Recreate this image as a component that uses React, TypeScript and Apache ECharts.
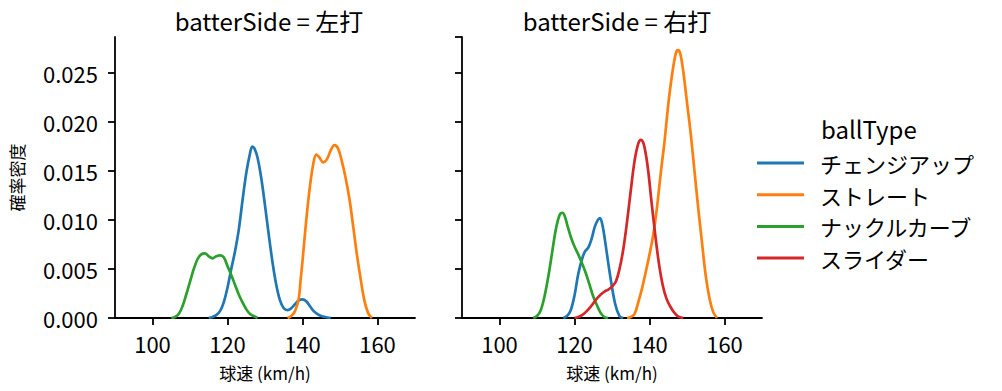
import React, { useEffect, useRef } from "react";
import * as echarts from "echarts";

const seriesNames = ["チェンジアップ", "ストレート", "ナックルカーブ", "スライダー"];
const colors = ["#1f77b4", "#ff7f0e", "#2ca02c", "#d62728"];
const panelTitles = ["batterSide = 左打", "batterSide = 右打"];
const xTicks = [100, 120, 140, 160];

// 左打
const leftChange: number[][] = [
  [115, 0], [116, 0.0001], [117, 0.0003], [118, 0.0007], [119, 0.0016], [120, 0.0031],
  [121, 0.005], [122, 0.0068], [123, 0.009], [124, 0.012], [125, 0.0148], [126, 0.0168],
  [126.6, 0.0175], [127.2, 0.0173], [128, 0.0164], [129, 0.0143], [130, 0.0115], [131, 0.0085],
  [132, 0.0057], [133, 0.0034], [134, 0.0018], [135, 0.001], [136, 0.0008], [137, 0.001],
  [138, 0.0014], [139, 0.0018], [140, 0.0019], [141, 0.0017], [142, 0.0012], [143, 0.0007],
  [144, 0.0004], [145, 0.0002], [146, 0.0001], [147.5, 0],
];
const leftStraight: number[][] = [
  [136, 0], [137, 0.0002], [138, 0.0007], [139, 0.002], [139.5, 0.0039], [140, 0.0058],
  [141, 0.01], [142, 0.0135], [143, 0.016], [143.7, 0.0167], [144.5, 0.0164], [145.5, 0.0159],
  [146.5, 0.0162], [147.5, 0.0171], [148.5, 0.01765], [149.5, 0.0173], [150.5, 0.016],
  [151.5, 0.0143], [152.5, 0.0122], [153.5, 0.0094], [154.5, 0.0065], [155.5, 0.004],
  [156.5, 0.0018], [157.5, 0.0005], [158.5, 0],
];
const leftKnuckle: number[][] = [
  [105, 0], [106, 0.0001], [107, 0.0004], [108, 0.0012], [109, 0.0024], [110, 0.0037],
  [111, 0.005], [112, 0.006], [113, 0.0065], [114, 0.0066], [115, 0.0063], [116, 0.0061],
  [117, 0.0063], [118, 0.0064], [119, 0.0062], [120, 0.0053], [121, 0.0044], [122, 0.0034],
  [123, 0.0024], [124, 0.0016], [125, 0.0009], [126, 0.0004], [127, 0.0002], [128, 0],
];

// 右打
const rightChange: number[][] = [
  [117, 0], [118, 0.0002], [119, 0.0008], [120, 0.0023], [121, 0.0045], [122, 0.006],
  [122.8, 0.0068], [123.7, 0.0072], [124.5, 0.008], [125.4, 0.0093], [126.2, 0.01],
  [126.8, 0.0102], [127.5, 0.0094], [128.1, 0.008], [129.4, 0.0046], [130.8, 0.0015],
  [132, 0.0002], [133, 0],
];
const rightStraight: number[][] = [
  [134, 0], [135, 0.0001], [136, 0.0004], [137, 0.0016], [138, 0.003], [139, 0.0047],
  [140, 0.0065], [141, 0.0085], [142, 0.0113], [143, 0.0148], [144, 0.018], [145, 0.0218],
  [146, 0.0248], [147, 0.027], [147.6, 0.02735], [148.2, 0.027], [149, 0.0252], [150, 0.022],
  [151, 0.0188], [152, 0.015], [153, 0.0112], [154, 0.0077], [155, 0.0043], [156, 0.002],
  [157, 0.0006], [158, 0],
];
const rightKnuckle: number[][] = [
  [109, 0], [110, 0.0002], [111, 0.0008], [112, 0.0022], [113, 0.0042], [114, 0.0066],
  [115, 0.009], [116, 0.0105], [116.8, 0.01075], [117.5, 0.0103], [118, 0.0096], [119, 0.0083],
  [120, 0.0073], [121, 0.0065], [122, 0.0056], [123, 0.0046], [124, 0.0034], [125, 0.0022],
  [126, 0.0013], [127, 0.0005], [128, 0.0001], [129, 0],
];
const rightSlider: number[][] = [
  [120, 0], [121, 0.0001], [122, 0.0003], [123, 0.0006], [124, 0.001], [125, 0.0015],
  [126, 0.002], [127, 0.0024], [128, 0.0027], [129, 0.0029], [130, 0.0032], [131, 0.0037],
  [132, 0.005], [133, 0.007], [134, 0.0098], [135, 0.013], [136, 0.016], [137, 0.0178],
  [137.7, 0.0182], [138.5, 0.0177], [139.5, 0.0155], [140.5, 0.012], [141.5, 0.0086],
  [142.5, 0.0056], [143.5, 0.0034], [144.5, 0.002], [145.5, 0.0012], [146.5, 0.0006],
  [147.5, 0.0002], [149, 0],
];

const FONT = "'Noto Sans CJK JP', 'Noto Sans', sans-serif";

export default function App() {
  const ref = useRef<HTMLDivElement>(null);
  useEffect(() => {
    if (!ref.current) return;
    const chart = echarts.init(ref.current, null, { renderer: "svg" });
    const axisLine = { show: true, lineStyle: { color: "#000", width: 1.8 } };
    const mkX = (gi: number) => ({
      type: "value",
      gridIndex: gi,
      min: 90,
      max: 170,
      interval: 10,
      splitLine: { show: false },
      axisLine,
      axisTick: { show: true, length: 7, lineStyle: { color: "#000", width: 1.8 }, customValues: xTicks },
      axisLabel: { show: true, fontSize: 22, color: "#000", fontFamily: FONT, margin: 14, customValues: xTicks },
      name: "球速 (km/h)",
      nameLocation: "middle",
      nameGap: 46,
      nameTextStyle: { fontSize: 17, color: "#000", fontFamily: FONT },
    });
    const mkY = (gi: number) => ({
      type: "value",
      gridIndex: gi,
      min: 0,
      max: 0.0287,
      interval: 0.005,
      splitLine: { show: false },
      axisLine,
      axisTick: { show: true, length: 7, lineStyle: { color: "#000", width: 1.8 } },
      axisLabel: {
        show: gi === 0,
        fontSize: 22,
        color: "#000",
        fontFamily: FONT,
        margin: 17,
        formatter: (v: number) => v.toFixed(3),
        showMaxLabel: false,
      },
      name: gi === 0 ? "確率密度" : "",
      nameLocation: "middle",
      nameGap: 90,
      nameTextStyle: { fontSize: 17, color: "#000", fontFamily: FONT },
    });
    const line = (name: string, data: number[][], gi: number) => ({
      type: "line",
      name,
      data,
      xAxisIndex: gi,
      yAxisIndex: gi,
      smooth: 0.35,
      showSymbol: false,
      symbol: "none",
      lineStyle: { width: 2.7, color: colors[seriesNames.indexOf(name)] },
      itemStyle: { color: colors[seriesNames.indexOf(name)] },
      z: 2,
    });
    const titleStyle = { fontSize: 24, fontWeight: "normal", color: "#000", fontFamily: FONT };
    chart.setOption({
      animation: false,
      backgroundColor: "#fff",
      title: [
        { text: panelTitles[0], left: 264, top: 3, textAlign: "center", textStyle: titleStyle },
        { text: panelTitles[1], left: 612, top: 3, textAlign: "center", textStyle: titleStyle },
        { text: "ballType", left: 816, top: 111, textStyle: titleStyle },
      ],
      legend: {
        orient: "vertical",
        left: 752,
        top: 147,
        data: seriesNames,
        icon: "rect",
        itemWidth: 47,
        itemHeight: 3,
        itemGap: 9.7,
        textStyle: { fontSize: 22, color: "#000", fontFamily: FONT, padding: [0, 0, 0, 11] },
        selectedMode: false,
      },
      grid: [
        { left: 115, top: 37, width: 300, height: 281 },
        { left: 462, top: 37, width: 300, height: 281 },
      ],
      xAxis: [mkX(0), mkX(1)],
      yAxis: [mkY(0), mkY(1)],
      series: [
        line("チェンジアップ", leftChange, 0),
        line("ストレート", leftStraight, 0),
        line("ナックルカーブ", leftKnuckle, 0),
        line("チェンジアップ", rightChange, 1),
        line("ストレート", rightStraight, 1),
        line("ナックルカーブ", rightKnuckle, 1),
        line("スライダー", rightSlider, 1),
      ],
    });
    return () => chart.dispose();
  }, []);
  return <div ref={ref} style={{ position: "fixed", left: 0, top: 0, width: 1002, height: 391 }} />;
}
